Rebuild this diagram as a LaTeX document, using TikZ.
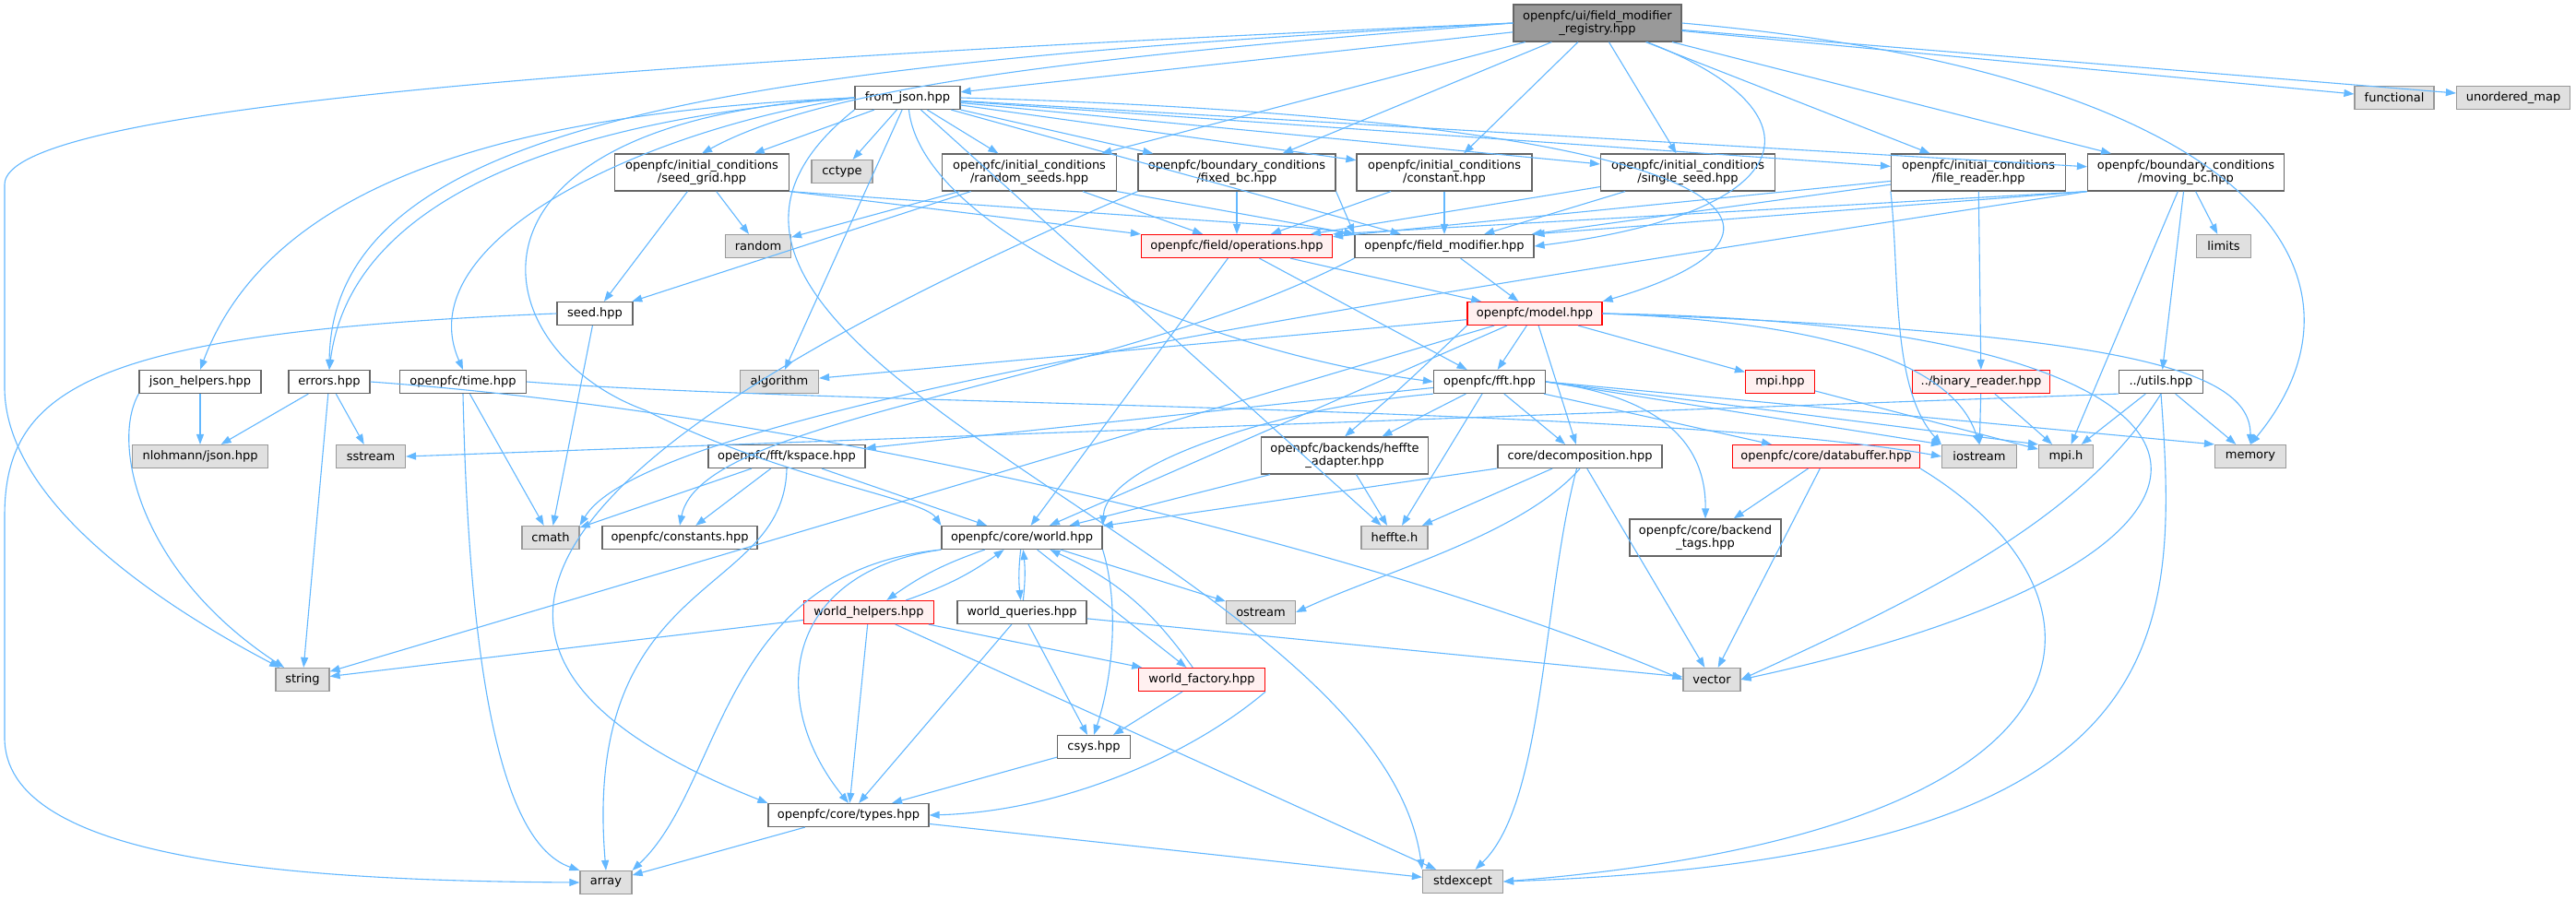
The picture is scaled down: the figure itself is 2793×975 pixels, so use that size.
\documentclass[tikz,border=0pt]{standalone}
\usepackage{fontspec}
\setmainfont{DejaVu Sans}
\usepackage{tikz}
\usetikzlibrary{shapes, arrows.meta}

\definecolor{edgeblue}{HTML}{63B8FF}
\definecolor{boxline}{HTML}{666666}
\definecolor{sysfill}{HTML}{E0E0E0}
\definecolor{sysline}{HTML}{999999}
\definecolor{redfill}{HTML}{FFF0F0}
\definecolor{redline}{HTML}{FF0000}
\definecolor{rootfill}{HTML}{999999}

\begin{document}
\begin{tikzpicture}[x=1pt, y=-1pt,
  hdr/.style={draw=boxline, fill=white, line width=1.2pt, minimum height=25pt, inner sep=0pt, align=center, font=\fontsize{13}{14.5}\selectfont},
  syshdr/.style={hdr, draw=sysline, fill=sysfill},
  redhdr/.style={hdr, draw=redline, fill=redfill},
  roothdr/.style={hdr, draw=boxline, fill=rootfill},
  twoline/.style={minimum height=40pt},
  dep/.style={draw=edgeblue, line width=1.1pt, -{Triangle[length=11pt,width=8pt]}}]
\fill[white] (0,0) rectangle (2793,975);

% top rows
\node[roothdr, twoline, minimum width=182] (root) at (1732,25) {openpfc/ui/field\_modifier\\\_registry.hpp};
\node[hdr, minimum width=114] (fromjson) at (984,106) {from\_json.hpp};
\node[syshdr, minimum width=86] (functional) at (2596,106) {functional};
\node[syshdr, minimum width=123] (unordmap) at (2725,106) {unordered\_map};

\node[hdr, twoline, minimum width=189] (seedgrid) at (761,187) {openpfc/initial\_conditions\\/seed\_grid.hpp};
\node[syshdr, minimum width=66] (cctype) at (913,186) {cctype};
\node[hdr, twoline, minimum width=189] (randseeds) at (1116,187) {openpfc/initial\_conditions\\/random\_seeds.hpp};
\node[hdr, twoline, minimum width=214] (fixedbc) at (1341,187) {openpfc/boundary\_conditions\\/fixed\_bc.hpp};
\node[hdr, twoline, minimum width=190] (constant) at (1566,187) {openpfc/initial\_conditions\\/constant.hpp};
\node[hdr, twoline, minimum width=189] (singleseed) at (1830,187) {openpfc/initial\_conditions\\/single\_seed.hpp};
\node[hdr, twoline, minimum width=189] (filereader) at (2145,187) {openpfc/initial\_conditions\\/file\_reader.hpp};
\node[hdr, twoline, minimum width=213] (movingbc) at (2370,187) {openpfc/boundary\_conditions\\/moving\_bc.hpp};

\node[syshdr, minimum width=71] (random) at (822,267) {random};
\node[redhdr, minimum width=207] (operations) at (1341,267) {openpfc/field/operations.hpp};
\node[hdr, minimum width=194] (fieldmod) at (1566,267) {openpfc/field\_modifier.hpp};
\node[syshdr, minimum width=59] (limits) at (2411,267) {limits};

\node[hdr, minimum width=82] (seed) at (645,340) {seed.hpp};
\node[redhdr, minimum width=146] (model) at (1664,340) {openpfc/model.hpp};

% middle rows
\node[hdr, minimum width=132] (jsonhelp) at (217,414) {json\_helpers.hpp};
\node[hdr, minimum width=88] (errors) at (357,414) {errors.hpp};
\node[hdr, minimum width=137] (time) at (502,414) {openpfc/time.hpp};
\node[syshdr, minimum width=85] (algorithm) at (845,414) {algorithm};
\node[hdr, minimum width=121] (fft) at (1615,414) {openpfc/fft.hpp};
\node[redhdr, minimum width=75] (mpihpp) at (1930,414) {mpi.hpp};
\node[redhdr, minimum width=149] (binreader) at (2148,414) {../binary\_reader.hpp};
\node[hdr, minimum width=91] (utils) at (2343,414) {../utils.hpp};

\node[syshdr, minimum width=147] (nlohmann) at (217,495) {nlohmann/json.hpp};
\node[syshdr, minimum width=75] (sstream) at (402,495) {sstream};
\node[hdr, minimum width=170] (kspace) at (853,495) {openpfc/fft/kspace.hpp};
\node[hdr, twoline, minimum width=181] (hadapter) at (1458,494) {openpfc/backends/heffte\\\_adapter.hpp};
\node[hdr, minimum width=178] (decomp) at (1713,495) {core/decomposition.hpp};
\node[redhdr, minimum width=203] (databuf) at (1980,495) {openpfc/core/databuffer.hpp};
\node[syshdr, minimum width=81] (iostream) at (2146,495) {iostream};
\node[syshdr, minimum width=59] (mpih) at (2240,495) {mpi.h};
\node[syshdr, minimum width=77] (memory) at (2440,495) {memory};

\node[syshdr, minimum width=62] (cmath) at (597,583) {cmath};
\node[hdr, minimum width=168] (constants) at (737,583) {openpfc/constants.hpp};
\node[hdr, minimum width=174] (world) at (1108,583) {openpfc/core/world.hpp};
\node[syshdr, minimum width=72] (heffte) at (1512,583) {heffte.h};
\node[hdr, twoline, minimum width=164] (backtags) at (1849,583) {openpfc/core/backend\\\_tags.hpp};

% bottom rows
\node[redhdr, minimum width=141] (whelpers) at (942,664) {world\_helpers.hpp};
\node[hdr, minimum width=140] (wqueries) at (1108,664) {world\_queries.hpp};
\node[syshdr, minimum width=75] (ostream) at (1367,664) {ostream};
\node[syshdr, minimum width=58] (string) at (328,737) {string};
\node[redhdr, minimum width=137] (wfactory) at (1303,737) {world\_factory.hpp};
\node[syshdr, minimum width=62] (vector) at (1856,737) {vector};
\node[hdr, minimum width=79] (csys) at (1186,810) {csys.hpp};
\node[hdr, minimum width=174] (types) at (920,884) {openpfc/core/types.hpp};
\node[syshdr, minimum width=56] (array) at (657,957) {array};
\node[syshdr, minimum width=87] (stdexcept) at (1586,956) {stdexcept};

% registry
\draw[dep] (root.west) .. controls (600,70) and (5,120) .. (5,200) -- (5,420) .. controls (5,560) and (220,680) .. (string);
\draw[dep] (root.west) .. controls (800,70) and (360,130) .. (errors.north);
\draw[dep] (root.west) .. controls (1200,60) and (900,90) .. (seedgrid.north);
\draw[dep] (root) -- (fromjson);
\draw[dep] (root) -- (randseeds);
\draw[dep] (root) -- (fixedbc);
\draw[dep] (root) -- (constant);
\draw[dep] (root) -- (singleseed);
\draw[dep] (root) .. controls (1980,120) and (1960,230) .. (fieldmod.east);
\draw[dep] (root) -- (filereader);
\draw[dep] (root) -- (movingbc);
\draw[dep] (root) -- (functional);
\draw[dep] (root) -- (unordmap);
\draw[dep] (root.east) .. controls (2450,80) and (2590,300) .. (memory.north);

% from_json
\draw[dep] (fromjson.west) .. controls (600,120) and (300,180) .. (jsonhelp.north);
\draw[dep] (fromjson.west) .. controls (600,130) and (380,220) .. (errors.north);
\draw[dep] (fromjson.west) .. controls (700,140) and (440,260) .. (time.north);
\draw[dep] (fromjson) -- (seedgrid);
\draw[dep] (fromjson) -- (cctype);
\draw[dep] (fromjson) -- (randseeds);
\draw[dep] (fromjson) -- (fixedbc);
\draw[dep] (fromjson) -- (constant);
\draw[dep] (fromjson) -- (singleseed);
\draw[dep] (fromjson) -- (filereader);
\draw[dep] (fromjson) -- (movingbc);
\draw[dep] (fromjson) -- (fieldmod);
\draw[dep] (fromjson.east) .. controls (1900,130) and (2000,250) .. (model.north east);
\draw[dep] (fromjson) .. controls (1000,250) and (1300,380) .. (fft.west);
\draw[dep] (fromjson.west) .. controls (470,130) and (520,380) .. (700,445) .. controls (850,520) and (1000,540) .. (world.north west);
\draw[dep] (fromjson) -- (algorithm);
\draw[dep] (fromjson) -- (heffte);
\draw[dep] (fromjson.south west) .. controls (600,380) and (1494,600) .. (stdexcept.north west);

% initial and boundary conditions
\draw[dep] (seedgrid) -- (random);
\draw[dep] (seedgrid) -- (seed);
\draw[dep] (seedgrid.south east) -- (operations.north west);
\draw[dep] (seedgrid.south east) .. controls (1300,240) and (1420,245) .. (fieldmod.north west);
\draw[dep] (randseeds) -- (random);
\draw[dep] (randseeds) -- (seed);
\draw[dep] (randseeds) -- (operations);
\draw[dep] (randseeds.south east) -- (fieldmod.north west);
\draw[dep] (fixedbc) -- (operations);
\draw[dep] (fixedbc.south east) -- (fieldmod.north west);
\draw[dep] (fixedbc.south west) .. controls (600,480) and (400,700) .. (types.north west);
\draw[dep] (constant) -- (operations);
\draw[dep] (constant) -- (fieldmod);
\draw[dep] (singleseed) -- (operations);
\draw[dep] (singleseed) -- (fieldmod);
\draw[dep] (filereader) -- (operations);
\draw[dep] (filereader) -- (fieldmod);
\draw[dep] (filereader) -- (binreader);
\draw[dep] (filereader.south west) .. controls (2060,300) and (2050,420) .. (iostream.north west);
\draw[dep] (movingbc.south west) -- (operations.north east);
\draw[dep] (movingbc.south west) -- (fieldmod.north east);
\draw[dep] (movingbc) -- (limits);
\draw[dep] (movingbc) -- (utils);
\draw[dep] (movingbc) -- (mpih);
\draw[dep] (movingbc.south west) .. controls (1400,340) and (700,450) .. (cmath.north east);

% field, model, fft
\draw[dep] (fieldmod) -- (model);
\draw[dep] (fieldmod.south west) .. controls (1200,420) and (760,450) .. (constants.north);
\draw[dep] (operations) -- (model);
\draw[dep] (operations) -- (fft);
\draw[dep] (operations) -- (world);
\draw[dep] (seed) -- (cmath);
\draw[dep] (seed.west) .. controls (100,360) and (5,420) .. (5,560) -- (5,800) .. controls (5,930) and (300,955) .. (array.west);
\draw[dep] (model) -- (algorithm);
\draw[dep] (model) -- (fft);
\draw[dep] (model) -- (mpihpp);
\draw[dep] (model.south west) .. controls (1520,420) .. (hadapter.north);
\draw[dep] (model) -- (decomp);
\draw[dep] (model) -- (world);
\draw[dep] (model) -- (string);
\draw[dep] (model.east) .. controls (2000,350) and (2120,400) .. (iostream.north);
\draw[dep] (model.east) .. controls (2300,360) and (2440,400) .. (memory.north);
\draw[dep] (model.east) .. controls (2480,350) and (2520,600) .. (vector.east);
\draw[dep] (fft) -- (kspace);
\draw[dep] (fft) -- (hadapter);
\draw[dep] (fft) -- (decomp);
\draw[dep] (fft) -- (databuf);
\draw[dep] (fft) -- (heffte);
\draw[dep] (fft.east) .. controls (1800,430) and (1850,480) .. (backtags.north);
\draw[dep] (fft.east) -- (iostream.north west);
\draw[dep] (fft.east) -- (mpih.north west);
\draw[dep] (fft.east) -- (memory.north west);
\draw[dep] (fft.south west) .. controls (1400,440) and (1200,500) .. (world.north east);
\draw[dep] (mpihpp) -- (mpih);
\draw[dep] (binreader) -- (iostream);
\draw[dep] (binreader) -- (mpih);
\draw[dep] (utils.south west) -- (sstream.east);
\draw[dep] (utils) -- (mpih);
\draw[dep] (utils) -- (memory);
\draw[dep] (utils.south) .. controls (2260,560) and (2100,640) .. (vector.east);
\draw[dep] (utils.south) .. controls (2363,700) and (2363,930) .. (stdexcept.east);

% small headers
\draw[dep] (jsonhelp) -- (nlohmann);
\draw[dep] (jsonhelp.south west) .. controls (120,480) and (150,620) .. (string);
\draw[dep] (errors) -- (nlohmann);
\draw[dep] (errors) -- (sstream);
\draw[dep] (errors) -- (string);
\draw[dep] (errors.east) .. controls (900,450) and (1500,600) .. (vector.west);
\draw[dep] (time) -- (cmath);
\draw[dep] (time.south) .. controls (510,800) and (560,920) .. (array.north west);
\draw[dep] (time.east) .. controls (900,440) and (1800,440) .. (iostream.west);
\draw[dep] (kspace) -- (cmath);
\draw[dep] (kspace) -- (constants);
\draw[dep] (kspace) -- (world);
\draw[dep] (kspace.south) .. controls (850,650) and (630,620) .. (array.north);
\draw[dep] (hadapter) -- (heffte);
\draw[dep] (hadapter) -- (world);
\draw[dep] (decomp) -- (heffte);
\draw[dep] (decomp) -- (world);
\draw[dep] (decomp.south) .. controls (1650,580) and (1500,620) .. (ostream.east);
\draw[dep] (decomp) -- (vector);
\draw[dep] (decomp) .. controls (1672,650) and (1675,870) .. (stdexcept);
\draw[dep] (databuf) -- (backtags);
\draw[dep] (databuf) -- (vector);
\draw[dep] (databuf.south east) .. controls (2300,640) and (2320,900) .. (stdexcept.east);

% world
\draw[dep] (world) to[bend right=8] (whelpers);
\draw[dep] (whelpers) to[bend right=8] (world);
\draw[dep] (world) to[bend right=6] (wqueries);
\draw[dep] (wqueries) to[bend right=6] (world);
\draw[dep] (world) -- (wfactory);
\draw[dep] (wfactory) to[bend right=15] (world);
\draw[dep] (world) -- (ostream);
\draw[dep] (world.south east) .. controls (1215,660) and (1205,740) .. (csys.north);
\draw[dep] (world.south west) .. controls (850,620) and (830,760) .. (types.north);
\draw[dep] (world.south west) .. controls (780,620) and (785,850) .. (array.north east);
\draw[dep] (whelpers) -- (string);
\draw[dep] (whelpers) -- (wfactory);
\draw[dep] (whelpers) -- (types);
\draw[dep] (whelpers) -- (stdexcept);
\draw[dep] (wqueries) -- (csys);
\draw[dep] (wqueries) -- (types);
\draw[dep] (wqueries) -- (vector);
\draw[dep] (wfactory) -- (csys);
\draw[dep] (wfactory.south east) .. controls (1290,820) and (1150,880) .. (types.east);
\draw[dep] (csys) -- (types);
\draw[dep] (types) -- (array);
\draw[dep] (types) -- (stdexcept);
\end{tikzpicture}
\end{document}
